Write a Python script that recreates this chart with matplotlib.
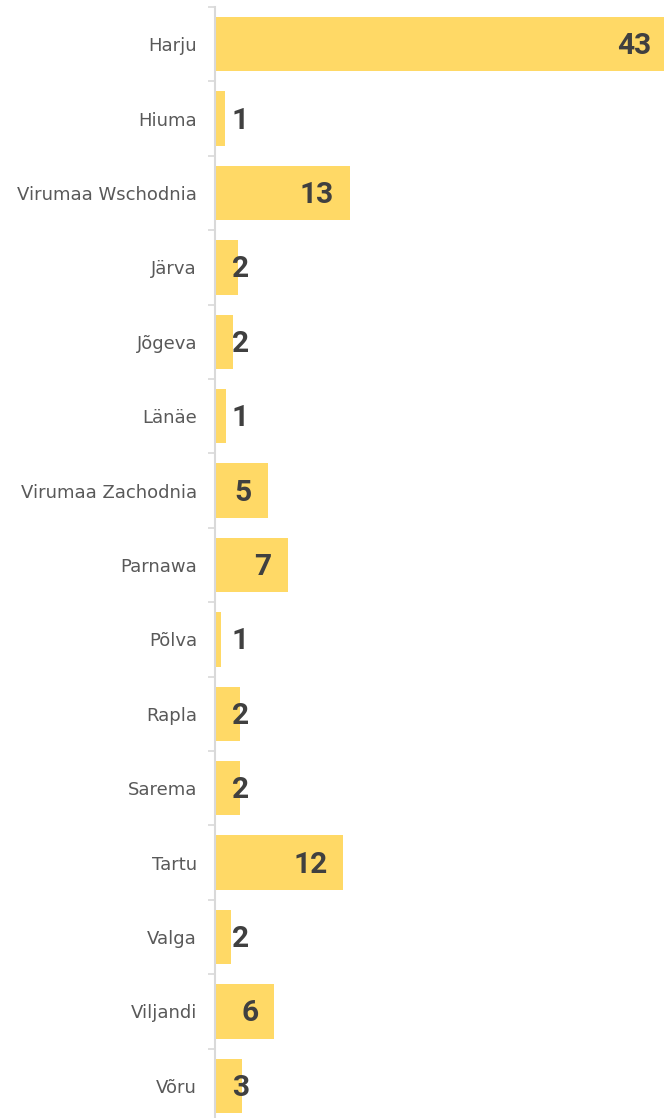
"""Horizontal bar chart of counts per Estonian county."""

import matplotlib.pyplot as plt
import numpy as np

# Data
counties = [
    "Harju", "Hiuma", "Virumaa Wschodnia", "Järva", "Jõgeva", "Länäe",
    "Virumaa Zachodnia", "Parnawa", "Põlva", "Rapla", "Sarema", "Tartu",
    "Valga", "Viljandi", "Võru",
]
bar_values = [43, 0.96, 12.8, 2.2, 1.7, 1.05, 5.0, 6.9, 0.6, 2.4, 2.4, 12.2, 1.55, 5.65, 2.6]
counts = [43, 1, 13, 2, 2, 1, 5, 7, 1, 2, 2, 12, 2, 6, 3]

BAR_COLOR = "#FFD966"
LABEL_COLOR = "#404040"
TICK_COLOR = "#595959"
AXIS_COLOR = "#D9D9D9"

W, H = 664, 1118
fig = plt.figure(figsize=(W / 100, H / 100), dpi=100)
# axes spans from the y-axis line to the right edge; slightly past the bottom
ax = fig.add_axes([215 / W, -5 / H, (W - 215) / W, (H - 2) / H])

y = np.arange(len(counties))
ax.barh(y, bar_values, height=0.73, color=BAR_COLOR, zorder=2)

# largest bar runs off the right edge in the original
ax.set_xlim(0, 42.7)
ax.set_ylim(len(counties) - 0.5, -0.5)

ax.set_yticks(y)
ax.set_yticklabels(counties, fontsize=13, color=TICK_COLOR, family=["DejaVu Sans"])
ax.tick_params(axis="y", which="major", length=0, pad=13)
# tick marks at category boundaries
ax.set_yticks(np.arange(len(counties) + 1) - 0.5, minor=True)
ax.tick_params(axis="y", which="minor", length=5, color=AXIS_COLOR, width=1.2)
ax.set_xticks([])

for side in ["top", "right", "bottom"]:
    ax.spines[side].set_visible(False)
ax.spines["left"].set_color(AXIS_COLOR)
ax.spines["left"].set_linewidth(1.5)

for yi, v, c in zip(y, bar_values, counts):
    if v > 4:
        x0, dx, ha = v, -11.5, "right"
    else:
        x0, dx, ha = 0, 12, "left"
    ax.annotate(str(c), (x0, yi), xytext=(dx, -1.5), textcoords="offset points",
                ha=ha, va="center", fontsize=21.5, fontweight="bold",
                color=LABEL_COLOR, family=["Roboto", "DejaVu Sans"],
                annotation_clip=False)

fig.savefig("out.png", dpi=100)
